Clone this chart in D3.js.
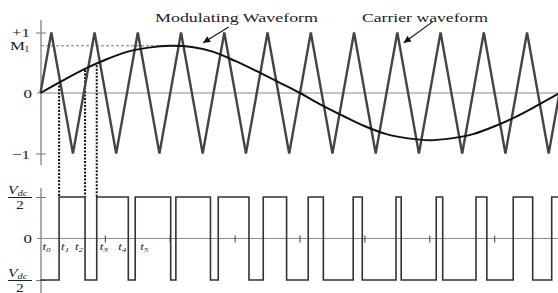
<!DOCTYPE html>
<html>
<head>
<meta charset="utf-8">
<script src="https://cdn.jsdelivr.net/npm/d3@7"></script>
<style>
  body { margin: 0; background: #fff; }
  svg { display: block; }
  text { font-family: "Liberation Serif", "DejaVu Serif", serif; fill: #222; }
</style>
</head>
<body>
<svg id="chart" width="558" height="293"></svg>
<script>
// time is in carrier periods (0..12 = one period of the modulating wave)

// modulating waveform, read every half carrier period
var modT = [0, 0.5, 1, 1.5, 2, 2.5, 3, 3.5, 4, 4.5, 5, 5.5, 6,
            6.5, 7, 7.5, 8, 8.5, 9, 9.5, 10, 10.5, 11, 11.5, 12];
var modV = [0, 0.20, 0.39, 0.55, 0.68, 0.75, 0.78, 0.76, 0.68, 0.53, 0.36, 0.18, 0,
            -0.20, -0.38, -0.55, -0.68, -0.75, -0.78, -0.75, -0.68, -0.55, -0.39, -0.20, 0];

// carrier vertices (triangle wave)
var carrierT = [0, 0.25, 0.75, 1.25, 1.75, 2.25, 2.75, 3.25, 3.75, 4.25, 4.75, 5.25, 5.75,
                6.25, 6.75, 7.25, 7.75, 8.25, 8.75, 9.25, 9.75, 10.25, 10.75, 11.25, 11.75, 12];
var carrierV = [0, 1, -1, 1, -1, 1, -1, 1, -1, 1, -1, 1, -1,
                1, -1, 1, -1, 1, -1, 1, -1, 1, -1, 1, -1, 0];

var M1 = 0.78;

// switching instants of the output (starts at -Vdc/2)
var pwmStart = -1;
var pwmEdges = [0.43, 1.03, 1.30, 2.03, 2.19, 3.01, 3.13, 3.93, 4.11, 4.82, 5.15, 5.69, 6.19,
                6.54, 7.23, 7.44, 8.22, 8.34, 9.15, 9.30, 10.07, 10.32, 10.93, 11.38, 11.82];

// dotted projection lines from the crossings
var dropT = [0.43, 1.03, 1.30];
var dropV = [0.18, 0.38, 0.46];

// ticks on the output zero line
var outTicks = [1.5, 3, 4.5, 6, 7.5, 9, 10.5, 12];

var tLabels = ["0", "1", "2", "3", "4", "5"];

var svg = d3.select("#chart");
var W = 558, H = 293;
var SX = 1.3; // the original figure is stretched sideways

svg.append("rect").attr("width", W).attr("height", H).attr("fill", "#fff");

var x = d3.scaleLinear().domain([0, 12]).range([40.5, 559.5]);
var yTop = d3.scaleLinear().domain([-1, 1]).range([153.5, 32.5]);
var yBot = d3.scaleLinear().domain([-1, 1]).range([280, 197]);

var axisX = 41;

function stext(px, py, anchor, size) {
    return svg.append("text")
        .attr("transform", "translate(" + px + "," + py + ") scale(" + SX + ",1)")
        .attr("text-anchor", anchor)
        .attr("font-size", size);
}

// ---------- top plot ----------
svg.append("line")
    .attr("x1", axisX).attr("x2", axisX).attr("y1", 20).attr("y2", 165)
    .attr("stroke", "#777").attr("stroke-width", 1.2);

var gTop = svg.append("g").attr("transform", "translate(" + axisX + ",0)")
    .call(d3.axisLeft(yTop).tickValues([-1, 1]).tickFormat(""));
gTop.select(".domain").remove();
gTop.selectAll(".tick line").attr("x1", -5).attr("x2", 5).attr("stroke", "#777");

// zero line
svg.append("line")
    .attr("x1", axisX - 4).attr("x2", W).attr("y1", yTop(0)).attr("y2", yTop(0))
    .attr("stroke", "#8a8a8a").attr("stroke-width", 1);

// M1 dashed
svg.append("line")
    .attr("x1", axisX).attr("x2", x(3.4)).attr("y1", yTop(M1)).attr("y2", yTop(M1))
    .attr("stroke", "#777").attr("stroke-width", 1).attr("stroke-dasharray", "3,2");

// dotted projection lines
dropT.forEach(function (t, i) {
    svg.append("line")
        .attr("x1", x(t)).attr("x2", x(t))
        .attr("y1", yTop(dropV[i])).attr("y2", yBot(1))
        .attr("stroke", "#111").attr("stroke-width", 2)
        .attr("stroke-dasharray", "2,1.5");
});

// carrier
var carrierData = carrierT.map(function (t, i) { return [t, carrierV[i]]; });
svg.append("path")
    .datum(carrierData)
    .attr("d", d3.line().x(function (d) { return x(d[0]); }).y(function (d) { return yTop(d[1]); }))
    .attr("fill", "none").attr("stroke", "#444").attr("stroke-width", 2.4)
    .attr("stroke-linejoin", "miter");

// modulating
var modData = modT.map(function (t, i) { return [t, modV[i]]; });
svg.append("path")
    .datum(modData)
    .attr("d", d3.line().curve(d3.curveCardinal)
        .x(function (d) { return x(d[0]); }).y(function (d) { return yTop(d[1]); }))
    .attr("fill", "none").attr("stroke", "#111").attr("stroke-width", 2);

// y labels top
stext(30, 36.5, "end", 13).text("+1");
stext(25, 50, "end", 13).text("M");
stext(29.5, 52, "end", 8).text("1");
stext(32, 97.5, "end", 13).text("0");
stext(30, 158.5, "end", 13).text("\u22121");

// annotations
svg.append("defs").append("marker")
    .attr("id", "arr").attr("viewBox", "0 0 10 10")
    .attr("refX", 10).attr("refY", 5)
    .attr("markerWidth", 9).attr("markerHeight", 7)
    .attr("markerUnits", "userSpaceOnUse")
    .attr("orient", "auto")
  .append("path").attr("d", "M0,0 L10,5 L0,10 z").attr("fill", "#111");

svg.append("line")
    .attr("x1", x(4.35)).attr("y1", yTop(1.09)).attr("x2", x(3.76)).attr("y2", yTop(0.83))
    .attr("stroke", "#111").attr("stroke-width", 1.1).attr("marker-end", "url(#arr)");
svg.append("line")
    .attr("x1", x(9.07)).attr("y1", yTop(1.18)).attr("x2", x(8.40)).attr("y2", yTop(0.83))
    .attr("stroke", "#111").attr("stroke-width", 1.1).attr("marker-end", "url(#arr)");

svg.append("text").attr("x", 155).attr("y", 21.5).attr("font-size", 13)
    .attr("textLength", 163).attr("lengthAdjust", "spacingAndGlyphs")
    .text("Modulating Waveform");
svg.append("text").attr("x", 362).attr("y", 21.5).attr("font-size", 13)
    .attr("textLength", 126).attr("lengthAdjust", "spacingAndGlyphs")
    .text("Carrier waveform");

// ---------- bottom plot ----------
svg.append("line")
    .attr("x1", axisX).attr("x2", axisX).attr("y1", 188).attr("y2", H)
    .attr("stroke", "#777").attr("stroke-width", 1.2);

var gBot = svg.append("g").attr("transform", "translate(" + axisX + ",0)")
    .call(d3.axisLeft(yBot).tickValues([-1, 1]).tickFormat(""));
gBot.select(".domain").remove();
gBot.selectAll(".tick line").attr("x1", -5).attr("x2", 5).attr("stroke", "#777");

svg.append("line")
    .attr("x1", axisX - 4).attr("x2", W).attr("y1", yBot(0)).attr("y2", yBot(0))
    .attr("stroke", "#8a8a8a").attr("stroke-width", 1);

svg.selectAll(".otick").data(outTicks).enter().append("line")
    .attr("class", "otick")
    .attr("x1", function (d) { return x(d); }).attr("x2", function (d) { return x(d); })
    .attr("y1", yBot(0) - 3).attr("y2", yBot(0) + 4)
    .attr("stroke", "#555").attr("stroke-width", 1.2);

// PWM output
var pwmData = [[0, pwmStart]];
var lvl = pwmStart;
pwmEdges.forEach(function (t) {
    pwmData.push([t, lvl]);
    lvl = -lvl;
    pwmData.push([t, lvl]);
});
pwmData.push([12, lvl]);
svg.append("path")
    .datum(pwmData)
    .attr("d", d3.line().x(function (d) { return x(d[0]); }).y(function (d) { return yBot(d[1]); }))
    .attr("fill", "none").attr("stroke", "#333").attr("stroke-width", 1.6);

// fraction labels Vdc/2
function vdc(cy) {
    var t = stext(8, cy - 3, "start", 12).attr("font-style", "italic");
    t.append("tspan").text("V");
    t.append("tspan").attr("font-size", 8).attr("dy", 2).text("dc");
    svg.append("line").attr("x1", 8).attr("x2", 32).attr("y1", cy + 0.5).attr("y2", cy + 0.5)
        .attr("stroke", "#222").attr("stroke-width", 1);
    stext(20, cy + 11.5, "middle", 12).text("2");
}
vdc(yBot(1));
vdc(yBot(-1));
stext(32, yBot(0) + 4.5, "end", 13).text("0");

// time labels
var tAt = [0].concat(pwmEdges.slice(0, 5));
var tDx = [2, 2, -2, 3, -2, 5];
tLabels.forEach(function (s, i) {
    var anchor = tDx[i] < 0 ? "end" : "start";
    var t = stext(x(tAt[i]) + tDx[i], yBot(0) + 11.5, anchor, 10).attr("font-style", "italic");
    t.append("tspan").text("t");
    t.append("tspan").attr("font-size", 7).attr("dy", 2).text(s);
});
</script>
</body>
</html>
